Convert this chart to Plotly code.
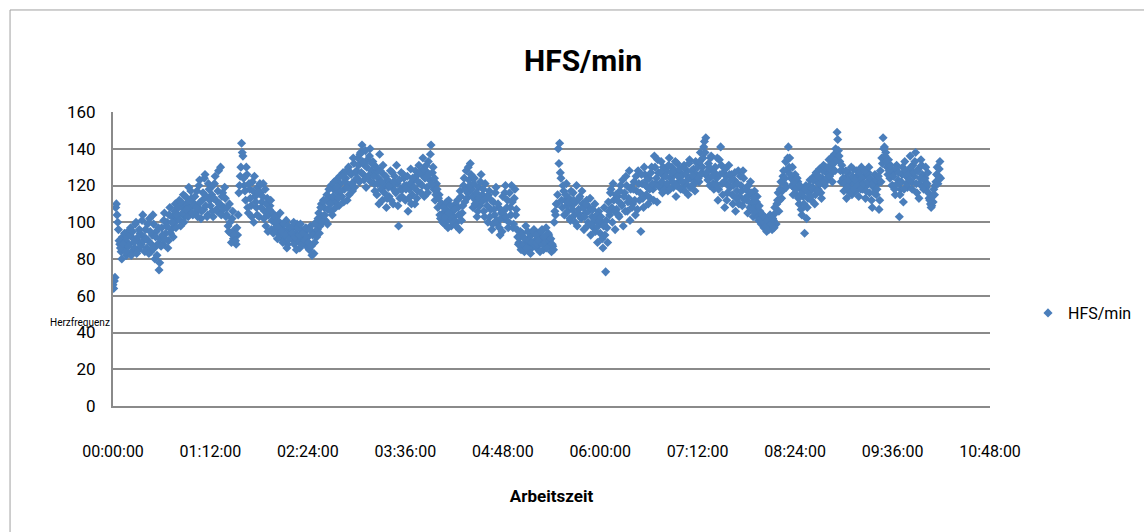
import plotly.graph_objects as go

# readings at each full minute since start
hfs = [
    66,68,108,104,96,88,84,92,86,90,82,95,
    88,97,84,91,86,100,90,85,94,88,104,92,
    96,86,90,102,84,93,99,80,95,88,74,91,
    97,88,105,94,100,90,108,96,103,99,110,101,
    104,112,98,108,115,103,110,106,119,108,113,104,
    110,105,117,108,123,102,112,107,126,114,104,118,
    109,115,103,121,112,106,128,110,104,116,108,113,
    104,98,110,94,102,91,96,88,93,116,125,143,
    136,120,112,126,105,118,109,122,100,114,108,119,
    103,116,111,121,106,98,113,104,109,96,105,100,
    97,103,94,100,92,98,90,95,101,88,96,93,
    91,97,88,94,99,90,86,96,92,89,95,87,
    92,85,98,82,94,89,100,96,105,98,110,103,
    108,101,115,107,112,120,104,118,111,123,116,109,
    121,114,127,118,124,112,130,120,126,117,132,123,
    128,135,122,138,142,126,131,119,134,125,140,128,
    133,121,127,115,124,137,118,112,126,120,108,123,
    114,128,119,110,125,116,121,98,113,127,118,124,
    112,120,106,118,129,115,123,110,125,117,131,121,
    126,135,114,128,119,133,123,142,127,118,112,121,
    108,115,102,110,105,99,107,101,112,104,98,106,
    103,110,100,108,96,114,105,120,111,128,116,123,
    132,118,108,124,112,103,119,109,126,115,106,121,
    113,100,117,107,96,111,104,119,99,108,93,105,
    114,102,120,108,97,116,104,111,99,118,107,92,
    89,95,86,92,84,98,88,91,85,93,87,96,
    90,86,94,88,92,96,85,91,97,89,93,87,
    84,87,100,104,110,140,143,124,108,117,112,121,
    106,113,101,109,116,104,111,98,107,114,102,110,
    96,105,112,100,108,93,103,97,110,101,89,106,
    94,100,86,108,73,97,111,104,118,100,112,96,
    107,114,103,120,109,98,116,125,106,113,101,119,
    110,122,104,117,128,112,95,121,108,126,115,119,
    124,113,130,118,136,121,111,127,119,133,116,125,
    120,128,117,135,124,130,119,126,114,132,122,127,
    125,118,131,121,128,115,134,124,120,129,117,126,
    130,122,138,127,135,144,146,125,132,120,136,128,
    118,130,124,112,134,141,121,127,108,125,116,131,
    119,126,110,123,106,117,128,114,120,109,124,113,
    118,105,115,122,110,103,117,108,114,101,106,99,
    104,97,102,95,100,97,103,96,101,108,99,112,
    106,118,113,125,121,133,128,141,135,124,130,119,
    126,115,122,110,118,104,114,94,120,108,116,123,
    112,119,125,115,122,118,129,116,124,131,120,127,
    123,134,126,131,128,137,140,149,139,133,122,128,
    117,124,113,127,119,122,115,129,121,117,125,114,
    122,130,118,125,113,120,127,116,123,108,119,126,
    115,121,107,128,135,146,141,138,130,134,124,129,
    120,127,115,131,123,103,118,126,111,133,125,119,
    128,136,122,131,125,138,116,129,121,134,126,118,
    124,119,127,113,110,109,111,115,122,130,125,133,
]

# readings at each half minute
hfs_half = [
    64,70,110,100,90,86,80,88,94,84,92,87,
    93,82,95,89,99,83,92,96,87,101,90,84,
    91,99,83,95,88,104,86,92,82,97,78,87,
    93,101,91,98,86,104,94,100,92,106,97,104,
    108,101,111,105,100,114,107,103,112,117,105,109,
    114,108,103,120,111,106,116,124,109,103,121,112,
    119,106,113,125,107,117,110,130,114,107,119,103,
    108,95,100,89,106,93,90,97,104,120,130,138,
    124,117,130,108,121,113,103,117,125,111,104,116,
    121,108,114,102,118,110,95,107,112,101,94,103,
    100,91,97,105,95,89,99,93,86,98,91,97,
    94,100,92,85,97,93,99,88,94,90,97,92,
    89,96,87,93,83,99,92,102,94,108,100,112,
    104,112,99,118,110,106,114,122,108,119,113,125,
    117,125,111,122,128,119,115,127,121,135,119,127,
    124,131,137,127,133,123,139,130,125,136,122,132,
    125,117,130,121,110,128,122,131,116,125,113,119,
    120,112,127,122,117,131,109,123,118,114,126,120,
    118,125,113,121,110,124,119,128,113,122,127,116,
    120,129,124,131,116,126,137,121,130,124,115,118,
    113,104,110,100,108,103,111,97,105,109,102,100,
    107,98,112,104,117,101,109,124,118,113,130,120,
    126,114,121,110,116,106,113,122,111,118,103,113,
    109,115,103,112,99,107,116,101,110,97,102,95,
    106,116,103,112,100,108,120,97,113,104,96,88,
    92,85,94,88,91,86,95,90,83,89,95,88,
    93,88,90,84,95,88,92,89,86,94,90,91,
    88,85,106,110,115,132,127,112,120,104,115,109,
    111,102,117,107,112,100,120,105,113,103,117,108,
    103,110,98,106,113,99,107,102,95,104,98,101,
    103,91,98,93,101,89,106,116,108,121,106,115,
    112,104,117,110,123,114,106,120,111,128,118,108,
    118,112,125,107,121,116,126,113,130,120,123,110,
    118,127,121,112,130,124,134,120,127,122,130,118,
    125,121,131,118,127,122,128,133,120,125,129,118,
    122,130,117,126,123,132,119,128,125,121,133,123,
    124,133,126,130,141,138,127,123,130,135,125,121,
    127,121,135,118,126,131,115,122,129,112,120,126,
    123,115,120,127,113,121,110,125,117,128,112,118,
    112,120,108,116,107,113,105,111,103,109,102,104,
    100,103,98,101,96,104,99,102,97,105,110,116,
    112,122,117,128,124,119,135,130,126,120,115,122,
    118,124,113,120,107,116,110,118,102,113,120,114,
    118,123,110,127,117,125,121,113,128,122,130,124,
    130,125,135,122,132,128,134,145,136,128,131,124,
    121,128,119,123,116,130,125,118,123,128,120,127,
    118,124,121,128,117,122,130,124,112,121,116,123,
    118,125,112,122,132,140,136,133,126,128,131,120,
    125,118,129,121,127,115,122,130,118,128,121,126,
    123,130,118,127,133,121,128,113,124,131,119,123,
    130,121,116,112,108,114,118,120,126,121,129,124,
]

minutes = [m for m in range(len(hfs))] + [m + 0.5 for m in range(len(hfs_half))]
values = hfs + hfs_half

tick_minutes = [0, 72, 144, 216, 288, 360, 432, 504, 576, 648]
tick_labels = ["00:00:00", "01:12:00", "02:24:00", "03:36:00", "04:48:00",
               "06:00:00", "07:12:00", "08:24:00", "09:36:00", "10:48:00"]
y_ticks = [0, 20, 40, 60, 80, 100, 120, 140, 160]

FONT = "Roboto, Open Sans, sans-serif"
BLUE = "#4a7ebb"
GRID = "#8a8a8a"

fig = go.Figure()
fig.add_trace(go.Scatter(
    x=minutes, y=values, mode="markers", name="HFS/min",
    marker=dict(symbol="diamond", size=7, color=BLUE, line=dict(width=0)),
))

fig.update_layout(
    width=1144, height=532,
    margin=dict(l=113, r=154, t=112, b=126, autoexpand=False),
    paper_bgcolor="white", plot_bgcolor="white",
    font=dict(family=FONT, size=16, color="#000000"),
    title=dict(text="<b>HFS/min</b>", x=583 / 1144, xref="container", xanchor="center",
               y=1 - 60 / 532, yref="container", yanchor="middle",
               font=dict(family=FONT, size=30, color="#000")),
    showlegend=True,
    legend=dict(x=1028 / 1144, y=1 - 313 / 532, xref="container", yref="container",
                xanchor="left", yanchor="middle",
                font=dict(family=FONT, size=16, color="#000"),
                itemwidth=30, bgcolor="rgba(0,0,0,0)"),
    shapes=[dict(type="rect", xref="paper", yref="paper",
                 x0=-0.1174, x1=1.3, y0=-0.6, y1=1.347,
                 line=dict(color="#a0a0a0", width=1), layer="below")],
)
fig.update_xaxes(
    range=[0, 648], tickmode="array", tickvals=tick_minutes, ticktext=tick_labels,
    showgrid=False, zeroline=False, showline=True, linecolor=GRID, linewidth=2,
    ticks="", ticklabelstandoff=30, tickfont=dict(size=16),
    title=dict(text="<b>Arbeitszeit</b>", font=dict(size=17), standoff=30),
)
fig.update_yaxes(
    range=[0, 160], tickmode="array", tickvals=y_ticks,
    showgrid=True, gridcolor=GRID, gridwidth=2, zeroline=False,
    showline=True, linecolor=GRID, linewidth=2, mirror=False,
    ticks="", ticklabelstandoff=12, tickfont=dict(size=17),
)
fig.add_annotation(text="Herzfrequenz", xref="paper", yref="paper",
                   x=(80 - 113) / 877, y=(406 - 322) / 294, xanchor="center", yanchor="middle",
                   showarrow=False, font=dict(family=FONT, size=10, color="#000"))

fig.write_html("out.html")
